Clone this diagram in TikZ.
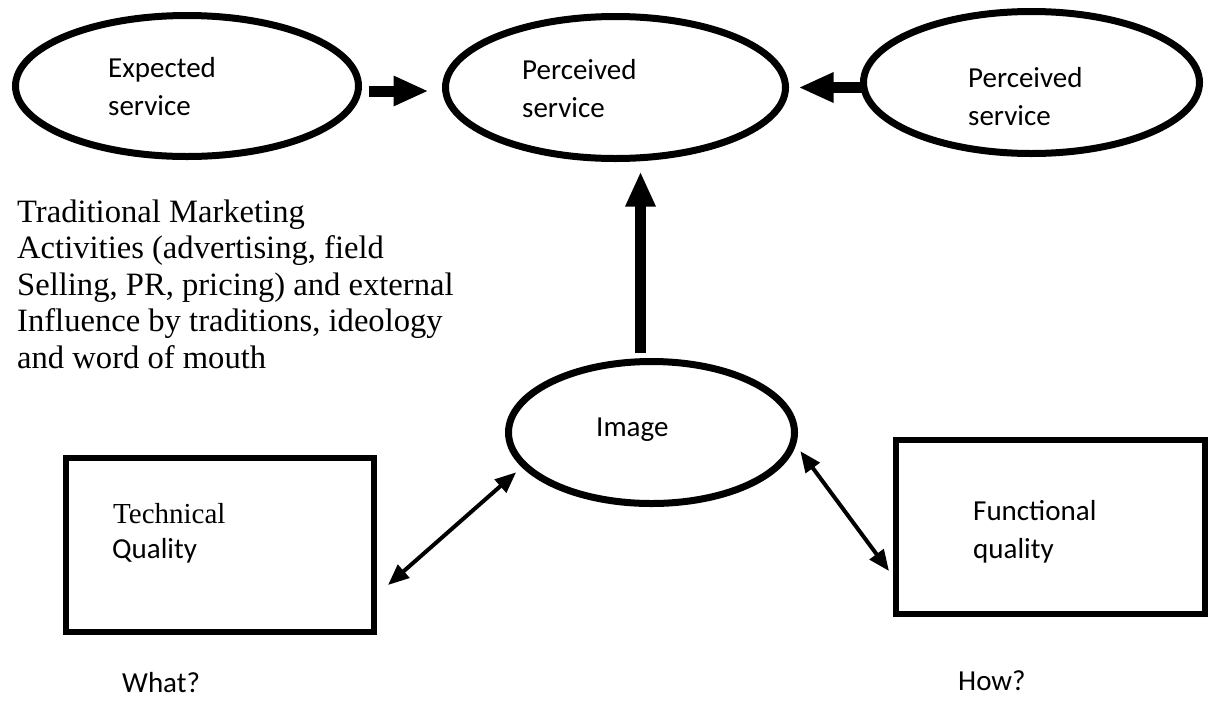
\documentclass[tikz,border=0pt]{standalone}
\usepackage{fontspec}
\setmainfont{Liberation Serif}
\newfontfamily\calfont{Carlito}
\usetikzlibrary{arrows.meta,shapes.geometric,calc}
\begin{document}
\begin{tikzpicture}[x=1pt,y=1pt,
  oval/.style={ellipse,draw,line width=7pt,inner sep=0pt},
  qbox/.style={rectangle,draw,line width=6pt,inner sep=0pt,minimum width=308pt,minimum height=174pt},
  sanslbl/.style={anchor=base west,inner sep=0pt,font=\calfont\fontsize{29}{38}\selectfont,align=left},
  seriflbl/.style={anchor=base west,inner sep=0pt,font=\fontsize{29}{36}\selectfont,align=left},
  paralbl/.style={anchor=base west,inner sep=0pt,font=\fontsize{32.6}{36.5}\selectfont,align=left},
  bigarrow/.style={line width=11pt,-{Triangle[length=35pt,width=28pt]}},
  thinarrow/.style={line width=4pt,{Triangle[length=21pt,width=17pt]}-{Triangle[length=21pt,width=17pt]}}
]
\useasboundingbox (0,0) rectangle (1210,-713);
% shapes
\node[oval,minimum width=343pt,minimum height=141pt] (e1) at (187,-86) {};
\node[oval,minimum width=340pt,minimum height=142pt] (e2) at (615.5,-87.5) {};
\node[oval,minimum width=336pt,minimum height=142pt] (e3) at (1031.5,-82.5) {};
\node[oval,minimum width=286pt,minimum height=142pt] (img) at (651.5,-432.5) {};
\node[qbox] (tech) at (220,-545) {};
\node[qbox,minimum width=309pt] (func) at (1050.5,-527) {};
% texts (base anchor of a multi-line node = baseline of its last line)
\node[sanslbl] (t1) at (108,-115) {Expected\\service};
\node[sanslbl] (t2) at (522,-117) {Perceived\\service};
\node[sanslbl] (t3) at (968,-125) {Perceived\\service};
\node[sanslbl] (timg) at (596,-436) {Image};
\node[paralbl] (trad) at (17,-368) {Traditional Marketing\\Activities (advertising, field\\Selling, PR, pricing) and external\\Influence by traditions, ideology\\and word of mouth};
\node[seriflbl] (ttech) at (113,-523) {Technical};
\node[sanslbl] (tqual) at (112,-558) {Quality};
\node[sanslbl] (tfunc) at (973,-558) {Functional\\quality};
\node[sanslbl] (what) at (122,-692) {What?};
\node[sanslbl] (how) at (958,-690) {How?};
% connectors
\coordinate (a1) at ($(e1.east)+(0,-5)$);
\draw[bigarrow,shorten <=6.5pt,shorten >=13.5pt] (a1) -- (a1 -| e2.west);
\draw[bigarrow,shorten <=-4.5pt,shorten >=9.5pt] (e3.west |- e2.east) -- (e2.east);
\coordinate (vb) at ($(img.north)+(-11,0)$);
\draw[bigarrow,shorten <=5.5pt,shorten >=9.5pt] (vb) -- (vb |- e2.south);
\draw[thinarrow,shorten >=7.7pt] ($(tech.south east)+(11,50)$) -- (img.195);
\draw[thinarrow,shorten <=7.5pt] (img.-5) -- ($(func.south west)+(-4,46)$);
\end{tikzpicture}
\end{document}
